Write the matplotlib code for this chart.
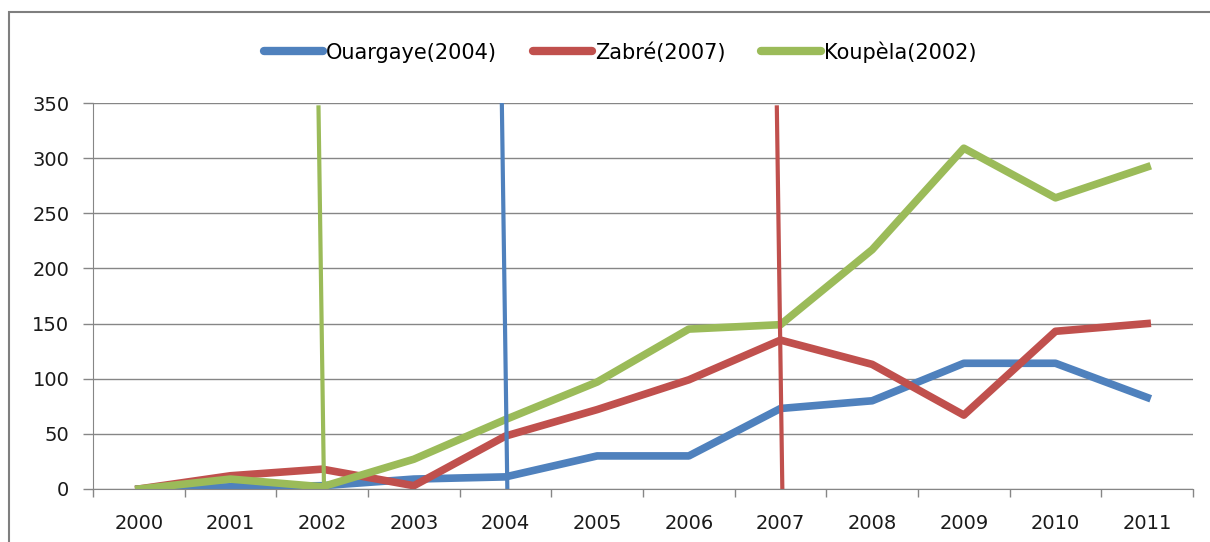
import numpy as np
import matplotlib.pyplot as plt
from matplotlib.patches import Rectangle

plt.rcParams['font.family'] = ['DejaVu Sans']

years = ['2000', '2001', '2002', '2003', '2004', '2005',
         '2006', '2007', '2008', '2009', '2010', '2011']
ouargaye = [0, 2, 3, 9, 11, 30, 30, 73, 80, 114, 114, 83]
zabre = [0, 12, 18, 3, 48, 72, 99, 135, 113, 67, 143, 150]
koupela = [0, 9, 2, 27, 63, 97, 145, 149, 217, 309, 264, 292]

# start-year markers (category index, top value)
markers = {'Ouargaye': (4, 350), 'Zabré': (7, 346), 'Koupèla': (2, 346)}

blue, red, green = '#4F81BD', '#C0504D', '#9BBB59'
grid = '#868686'

fig = plt.figure(figsize=(12.1, 5.42), dpi=100)
ax = fig.add_axes([93/1210, 1-489/542, 1100/1210, 386/542])

x = np.arange(len(years))
ax.plot(x, ouargaye, color=blue, lw=5.5, label='Ouargaye(2004)')
ax.plot(x, zabre, color=red, lw=5.5, label='Zabré(2007)')
ax.plot(x, koupela, color=green, lw=5.5, label='Koupèla(2002)')

for name, c in [('Ouargaye', blue), ('Zabré', red), ('Koupèla', green)]:
    i, top = markers[name]
    ax.plot([i - 0.04, i + 0.02], [top, 0], color=c, lw=3)

ax.set_xlim(-0.5, 11.5)
ax.set_ylim(0, 350)
ax.set_yticks(np.arange(0, 351, 50))
ax.set_xticks(x)
ax.set_xticklabels(years)
ax.set_xticks(np.arange(-0.5, 12, 1), minor=True)
ax.tick_params(axis='x', which='major', length=0, pad=18, labelsize=14, colors='#1a1a1a')
ax.tick_params(axis='x', which='minor', length=6, width=1, color=grid, direction='out')
ax.tick_params(axis='y', length=7, width=1, labelsize=14, pad=10, colors='#1a1a1a')
ax.tick_params(axis='y', color=grid)
ax.grid(axis='y', color=grid, lw=1)
ax.set_axisbelow(True)
for s in ['top', 'right']:
    ax.spines[s].set_visible(False)
ax.spines['bottom'].set_color(grid)
ax.spines['left'].set_color(grid)

leg = fig.legend(loc='center', bbox_to_anchor=(620/1210, 1-52/542), ncol=3,
                 frameon=False, fontsize=15, handlelength=2.85, columnspacing=1.7,
                 handletextpad=0.15)
for line in leg.get_lines():
    line.set_linewidth(6)
    line.set_solid_capstyle('round')

fig.patches.append(Rectangle((9/1210, -0.1), 1.1, 1.1 - 12/542,
                             transform=fig.transFigure, fill=False,
                             edgecolor='#7f7f7f', lw=1.5))

fig.savefig('out.png', dpi=100)
